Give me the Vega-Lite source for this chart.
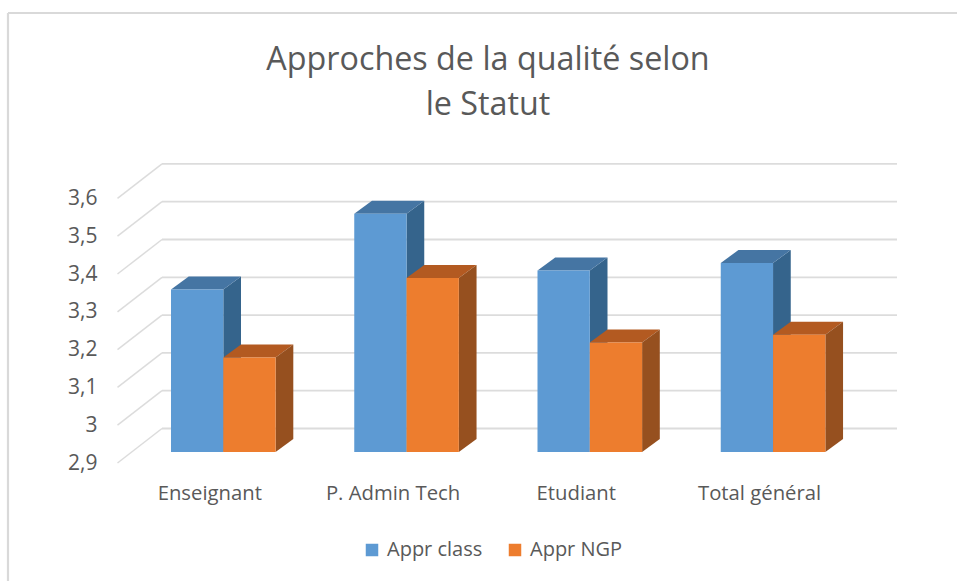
{
"$schema":"https://vega.github.io/schema/vega-lite/v6.json",
"width":957,"height":581,"padding":0,"autosize":{"type":"none"},"background":"white",
"config":{"view":{"stroke":null},"font":"Open Sans"},
"title":{"text":["Approches de la qualité selon","le Statut"],"anchor":"middle","frame":"group","dx":9.5,"offset":-121,"fontSize":32.3,"fontWeight":"normal","color":"#595959","lineHeight":45,"font":"Open Sans"},
"datasets":{
"grille":[
{"valeur":2.9,"avant":2.8709,"arriere":2.9622},
{"valeur":3.0,"avant":2.9709,"arriere":3.0622},
{"valeur":3.1,"avant":3.0709,"arriere":3.1622},
{"valeur":3.2,"avant":3.1709,"arriere":3.2622},
{"valeur":3.3,"avant":3.2709,"arriere":3.3622},
{"valeur":3.4,"avant":3.3709,"arriere":3.4622},
{"valeur":3.5,"avant":3.4709,"arriere":3.5622},
{"valeur":3.6,"avant":3.5709,"arriere":3.6622}],
"barres":[
{"statut":"Enseignant","serie":"Appr class","valeur":3.33},
{"statut":"Enseignant","serie":"Appr NGP","valeur":3.15},
{"statut":"P. Admin Tech","serie":"Appr class","valeur":3.53},
{"statut":"P. Admin Tech","serie":"Appr NGP","valeur":3.36},
{"statut":"Etudiant","serie":"Appr class","valeur":3.38},
{"statut":"Etudiant","serie":"Appr NGP","valeur":3.19},
{"statut":"Total général","serie":"Appr class","valeur":3.40},
{"statut":"Total général","serie":"Appr NGP","valeur":3.21}],
"cotes":[
{"statut":"Enseignant","serie":"Appr class","x":223.3,"y":3.33,"y2":2.9},{"statut":"Enseignant","serie":"Appr class","x":241,"y":3.3644,"y2":2.9344},
{"statut":"P. Admin Tech","serie":"Appr class","x":406.55,"y":3.53,"y2":2.9},{"statut":"P. Admin Tech","serie":"Appr class","x":424.25,"y":3.5644,"y2":2.9344},
{"statut":"Etudiant","serie":"Appr class","x":589.8,"y":3.38,"y2":2.9},{"statut":"Etudiant","serie":"Appr class","x":607.5,"y":3.4144,"y2":2.9344},
{"statut":"Total général","serie":"Appr class","x":773.05,"y":3.40,"y2":2.9},{"statut":"Total général","serie":"Appr class","x":790.75,"y":3.4344,"y2":2.9344},
{"statut":"Enseignant","serie":"Appr NGP","x":275.6,"y":3.15,"y2":2.9},{"statut":"Enseignant","serie":"Appr NGP","x":293.3,"y":3.1844,"y2":2.9344},
{"statut":"P. Admin Tech","serie":"Appr NGP","x":458.85,"y":3.36,"y2":2.9},{"statut":"P. Admin Tech","serie":"Appr NGP","x":476.55,"y":3.3944,"y2":2.9344},
{"statut":"Etudiant","serie":"Appr NGP","x":642.1,"y":3.19,"y2":2.9},{"statut":"Etudiant","serie":"Appr NGP","x":659.8,"y":3.2244,"y2":2.9344},
{"statut":"Total général","serie":"Appr NGP","x":825.35,"y":3.21,"y2":2.9},{"statut":"Total général","serie":"Appr NGP","x":843.05,"y":3.2444,"y2":2.9344}],
"dessus":[
{"statut":"Enseignant","serie":"Appr class","x":171,"y":3.33,"y2":3.33},{"statut":"Enseignant","serie":"Appr class","x":188.7,"y":3.3644,"y2":3.33},{"statut":"Enseignant","serie":"Appr class","x":223.3,"y":3.3644,"y2":3.33},{"statut":"Enseignant","serie":"Appr class","x":241,"y":3.3644,"y2":3.3644},
{"statut":"P. Admin Tech","serie":"Appr class","x":354.25,"y":3.53,"y2":3.53},{"statut":"P. Admin Tech","serie":"Appr class","x":371.95,"y":3.5644,"y2":3.53},{"statut":"P. Admin Tech","serie":"Appr class","x":406.55,"y":3.5644,"y2":3.53},{"statut":"P. Admin Tech","serie":"Appr class","x":424.25,"y":3.5644,"y2":3.5644},
{"statut":"Etudiant","serie":"Appr class","x":537.5,"y":3.38,"y2":3.38},{"statut":"Etudiant","serie":"Appr class","x":555.2,"y":3.4144,"y2":3.38},{"statut":"Etudiant","serie":"Appr class","x":589.8,"y":3.4144,"y2":3.38},{"statut":"Etudiant","serie":"Appr class","x":607.5,"y":3.4144,"y2":3.4144},
{"statut":"Total général","serie":"Appr class","x":720.75,"y":3.40,"y2":3.40},{"statut":"Total général","serie":"Appr class","x":738.45,"y":3.4344,"y2":3.40},{"statut":"Total général","serie":"Appr class","x":773.05,"y":3.4344,"y2":3.40},{"statut":"Total général","serie":"Appr class","x":790.75,"y":3.4344,"y2":3.4344},
{"statut":"Enseignant","serie":"Appr NGP","x":223.3,"y":3.15,"y2":3.15},{"statut":"Enseignant","serie":"Appr NGP","x":241,"y":3.1844,"y2":3.15},{"statut":"Enseignant","serie":"Appr NGP","x":275.6,"y":3.1844,"y2":3.15},{"statut":"Enseignant","serie":"Appr NGP","x":293.3,"y":3.1844,"y2":3.1844},
{"statut":"P. Admin Tech","serie":"Appr NGP","x":406.55,"y":3.36,"y2":3.36},{"statut":"P. Admin Tech","serie":"Appr NGP","x":424.25,"y":3.3944,"y2":3.36},{"statut":"P. Admin Tech","serie":"Appr NGP","x":458.85,"y":3.3944,"y2":3.36},{"statut":"P. Admin Tech","serie":"Appr NGP","x":476.55,"y":3.3944,"y2":3.3944},
{"statut":"Etudiant","serie":"Appr NGP","x":589.8,"y":3.19,"y2":3.19},{"statut":"Etudiant","serie":"Appr NGP","x":607.5,"y":3.2244,"y2":3.19},{"statut":"Etudiant","serie":"Appr NGP","x":642.1,"y":3.2244,"y2":3.19},{"statut":"Etudiant","serie":"Appr NGP","x":659.8,"y":3.2244,"y2":3.2244},
{"statut":"Total général","serie":"Appr NGP","x":773.05,"y":3.21,"y2":3.21},{"statut":"Total général","serie":"Appr NGP","x":790.75,"y":3.2444,"y2":3.21},{"statut":"Total général","serie":"Appr NGP","x":825.35,"y":3.2444,"y2":3.21},{"statut":"Total général","serie":"Appr NGP","x":843.05,"y":3.2444,"y2":3.2444}]
},
"resolve":{"scale":{"x":"independent"}},
"layer":[
{"data":{"name":"grille"},"mark":{"type":"rule","color":"#dcdcdc","strokeWidth":1.8},
 "encoding":{"x":{"datum":162,"type":"quantitative","scale":{"domain":[0,957]},"axis":null},"x2":{"datum":897},
 "y":{"field":"arriere","type":"quantitative","scale":{"domain":[2.55873,4.09577],"nice":false,"zero":false},
  "axis":{"orient":"left","offset":-97,"values":[2.9,3.0,3.1,3.2,3.3,3.4,3.5,3.6],"labelExpr":"replace(toString(round(datum.value*10)/10),'.',',')","domain":false,"ticks":false,"grid":false,"title":null,"labelPadding":0,"labelFontSize":21,"labelColor":"#595959","labelOffset":11}}}},
{"data":{"name":"grille"},"mark":{"type":"rule","color":"#dcdcdc","strokeWidth":1.5},
 "encoding":{"x":{"datum":117.5,"type":"quantitative","scale":{"domain":[0,957]},"axis":null},"x2":{"datum":162},
 "y":{"field":"avant","type":"quantitative"},"y2":{"field":"arriere"}}},
{"data":{"name":"cotes"},"transform":[{"filter":"datum.serie==='Appr class'"}],"mark":{"type":"area","orient":"vertical","color":"#35648C"},
 "encoding":{"x":{"field":"x","type":"quantitative","scale":{"domain":[0,957]},"axis":null},"y":{"field":"y","type":"quantitative","stack":null},"y2":{"field":"y2"},"detail":{"field":"statut"}}},
{"data":{"name":"dessus"},"transform":[{"filter":"datum.serie==='Appr class'"}],"mark":{"type":"area","orient":"vertical","color":"#4575A3"},
 "encoding":{"x":{"field":"x","type":"quantitative","scale":{"domain":[0,957]},"axis":null},"y":{"field":"y","type":"quantitative","stack":null},"y2":{"field":"y2"},"detail":{"field":"statut"}}},
{"data":{"name":"dessus"},"transform":[{"filter":"datum.serie==='Appr NGP'"}],"mark":{"type":"area","orient":"vertical","color":"#B35A21"},
 "encoding":{"x":{"field":"x","type":"quantitative","scale":{"domain":[0,957]},"axis":null},"y":{"field":"y","type":"quantitative","stack":null},"y2":{"field":"y2"},"detail":{"field":"statut"}}},
{"data":{"name":"cotes"},"transform":[{"filter":"datum.serie==='Appr NGP'"}],"mark":{"type":"area","orient":"vertical","color":"#96501F"},
 "encoding":{"x":{"field":"x","type":"quantitative","scale":{"domain":[0,957]},"axis":null},"y":{"field":"y","type":"quantitative","stack":null},"y2":{"field":"y2"},"detail":{"field":"statut"}}},
{"data":{"name":"barres"},"mark":{"type":"bar"},
 "encoding":{
 "x":{"field":"statut","type":"nominal","sort":null,"scale":{"range":[131.675,864.675],"paddingInner":0.4292,"paddingOuter":0.2146},
  "axis":{"orient":"bottom","offset":-98,"labelAngle":0,"domain":false,"ticks":false,"title":null,"labelPadding":0,"labelFontSize":20.3,"labelColor":"#595959","labelOffset":-13.5}},
 "xOffset":{"field":"serie","type":"nominal","sort":null,"scale":{"paddingInner":0,"paddingOuter":0}},
 "y":{"field":"valeur","type":"quantitative","stack":null},"y2":{"datum":2.9},
 "color":{"field":"serie","type":"nominal","sort":null,"scale":{"domain":["Appr class","Appr NGP"],"range":["#5D9AD3","#ED7D2E"]},
  "legend":{"orient":"none","legendX":362,"legendY":540,"direction":"horizontal","columns":2,"title":null,"symbolType":"square","symbolSize":156,"symbolStrokeWidth":0,"labelFontSize":20,"labelColor":"#595959","labelOffset":5,"columnPadding":22}}}},
{"data":{"values":[{"x":8,"y":4.0614,"y2":2.55873}]},"mark":{"type":"rule","color":"#d9d9d9","strokeWidth":2.2},
 "encoding":{"x":{"field":"x","type":"quantitative","scale":{"domain":[0,957]},"axis":null},"y":{"field":"y","type":"quantitative"},"y2":{"field":"y2"}}},
{"data":{"values":[{"x":8,"x2":957,"y":4.0614}]},"mark":{"type":"rule","color":"#d9d9d9","strokeWidth":2.2},
 "encoding":{"x":{"field":"x","type":"quantitative","scale":{"domain":[0,957]},"axis":null},"x2":{"field":"x2"},"y":{"field":"y","type":"quantitative"}}}
]
}
